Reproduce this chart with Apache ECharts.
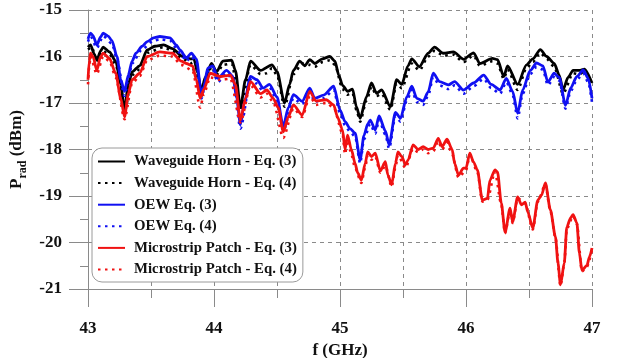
<!DOCTYPE html>
<html>
<head>
<meta charset="UTF-8">
<title>Prad vs f</title>
<style>
	html, body { margin: 0; padding: 0; background: #fff; }
	#main { width: 617px; height: 358px; }
</style>
</head>
<body>
<div id="main"></div>
<script src="https://cdn.jsdelivr.net/npm/echarts@6/dist/echarts.min.js"></script>
<script>
// [f (GHz), Prad (dBm)]
var hornEq3 = [[43.0,-15.8],[43.02,-15.75],[43.05,-15.95],[43.07,-16.08],[43.10,-15.88],[43.12,-15.8],[43.17,-15.9],[43.22,-16.1],[43.26,-16.6],[43.29,-17.15],[43.32,-16.6],[43.35,-16.33],[43.41,-16.2],[43.47,-15.86],[43.53,-15.78],[43.6,-15.75],[43.67,-15.83],[43.75,-16.0],[43.81,-16.05],[43.84,-16.05],[43.87,-16.35],[43.9,-16.75],[43.93,-16.45],[43.98,-16.15],[44.02,-16.33],[44.07,-16.1],[44.14,-16.08],[44.17,-16.3],[44.21,-17.1],[44.25,-16.5],[44.29,-16.1],[44.37,-16.3],[44.46,-16.18],[44.5,-16.32],[44.56,-17.0],[44.6,-16.6],[44.63,-16.3],[44.68,-16.1],[44.72,-16.2],[44.76,-16.07],[44.8,-16.15],[44.86,-16.05],[44.92,-16.0],[44.96,-16.1],[44.99,-16.4],[45.02,-16.62],[45.06,-16.75],[45.1,-16.7],[45.13,-17.08],[45.16,-17.33],[45.21,-16.87],[45.25,-16.57],[45.29,-16.79],[45.33,-16.72],[45.4,-17.08],[45.45,-16.5],[45.49,-16.6],[45.54,-16.2],[45.57,-16.05],[45.63,-16.22],[45.7,-15.93],[45.75,-15.8],[45.82,-15.93],[45.9,-15.9],[45.98,-16.06],[46.06,-15.92],[46.11,-16.15],[46.21,-16.04],[46.25,-16.07],[46.3,-16.43],[46.33,-16.2],[46.41,-16.6],[46.48,-16.18],[46.53,-16.05],[46.59,-15.85],[46.64,-16.0],[46.7,-16.15],[46.74,-16.4],[46.77,-16.72],[46.81,-16.45],[46.85,-16.3],[46.9,-16.3],[46.94,-16.27],[47.0,-16.57]];
var hornEq4 = [[43.0,-15.85],[43.03,-15.8],[43.07,-16.12],[43.11,-15.88],[43.17,-15.95],[43.22,-16.18],[43.29,-17.2],[43.35,-16.4],[43.41,-16.28],[43.47,-15.92],[43.6,-15.8],[43.67,-15.88],[43.75,-16.05],[43.81,-16.12],[43.86,-16.4],[43.9,-16.85],[43.94,-16.5],[43.98,-16.22],[44.02,-16.4],[44.07,-16.18],[44.14,-16.15],[44.21,-17.15],[44.29,-16.18],[44.37,-16.38],[44.42,-16.36],[44.46,-16.25],[44.5,-16.4],[44.56,-17.08],[44.63,-16.38],[44.7,-16.15],[44.76,-16.18],[44.8,-16.22],[44.86,-16.12],[44.92,-16.08],[44.96,-16.18],[45.02,-16.7],[45.06,-16.82],[45.1,-16.78],[45.13,-17.15],[45.16,-17.4],[45.21,-16.95],[45.25,-16.65],[45.29,-16.85],[45.33,-16.8],[45.4,-17.15],[45.45,-16.58],[45.49,-16.68],[45.57,-16.15],[45.63,-16.3],[45.7,-16.0],[45.75,-15.88],[45.82,-15.98],[45.9,-15.96],[45.98,-16.12],[46.06,-15.98],[46.11,-16.2],[46.21,-16.1],[46.25,-16.15],[46.3,-16.48],[46.33,-16.28],[46.41,-16.72],[46.48,-16.25],[46.53,-16.12],[46.59,-15.92],[46.64,-16.05],[46.7,-16.22],[46.77,-16.8],[46.85,-16.36],[46.9,-16.38],[46.94,-16.32],[47.0,-16.62]];
var oewEq3 = [[43.0,-15.62],[43.02,-15.5],[43.04,-15.55],[43.07,-15.75],[43.10,-15.58],[43.12,-15.5],[43.16,-15.56],[43.19,-15.66],[43.23,-16.0],[43.26,-16.5],[43.29,-16.75],[43.32,-16.4],[43.35,-16.1],[43.38,-15.93],[43.43,-15.78],[43.47,-15.68],[43.52,-15.6],[43.57,-15.57],[43.65,-15.6],[43.7,-15.75],[43.73,-15.86],[43.78,-16.03],[43.82,-15.93],[43.86,-16.05],[43.9,-16.8],[43.92,-16.65],[43.95,-16.25],[43.99,-16.2],[44.03,-16.47],[44.1,-16.3],[44.15,-16.43],[44.18,-16.9],[44.21,-17.47],[44.24,-17.0],[44.29,-16.43],[44.34,-16.5],[44.39,-16.68],[44.44,-16.6],[44.5,-16.87],[44.55,-17.5],[44.59,-17.1],[44.63,-16.82],[44.7,-16.96],[44.76,-16.68],[44.8,-16.9],[44.87,-16.83],[44.95,-16.64],[45.0,-17.15],[45.04,-17.4],[45.08,-17.55],[45.12,-17.65],[45.16,-18.22],[45.19,-17.7],[45.22,-17.45],[45.24,-17.37],[45.28,-17.58],[45.31,-17.28],[45.36,-17.6],[45.39,-17.9],[45.44,-17.2],[45.48,-17.33],[45.53,-16.87],[45.57,-16.64],[45.61,-16.9],[45.66,-16.96],[45.7,-16.76],[45.74,-16.36],[45.79,-16.54],[45.86,-16.61],[45.91,-16.54],[45.98,-16.72],[46.06,-16.57],[46.14,-16.4],[46.2,-16.6],[46.27,-16.72],[46.32,-16.47],[46.37,-16.75],[46.41,-17.22],[46.45,-16.72],[46.51,-16.3],[46.56,-16.14],[46.61,-16.2],[46.65,-16.55],[46.7,-16.36],[46.74,-16.45],[46.79,-17.05],[46.83,-16.68],[46.88,-16.43],[46.93,-16.29],[46.97,-16.47],[47.0,-16.9]];
var oewEq4 = [[43.0,-15.68],[43.02,-15.56],[43.07,-15.82],[43.12,-15.56],[43.19,-15.72],[43.23,-16.06],[43.29,-16.85],[43.32,-16.48],[43.35,-16.15],[43.43,-15.84],[43.52,-15.66],[43.57,-15.63],[43.65,-15.66],[43.73,-15.92],[43.78,-16.1],[43.82,-16.0],[43.86,-16.12],[43.9,-16.9],[43.95,-16.32],[43.99,-16.28],[44.03,-16.55],[44.1,-16.36],[44.15,-16.5],[44.21,-17.55],[44.29,-16.5],[44.34,-16.58],[44.39,-16.76],[44.44,-16.66],[44.5,-16.95],[44.55,-17.6],[44.63,-16.9],[44.7,-17.02],[44.76,-16.75],[44.8,-16.98],[44.87,-16.9],[44.95,-16.72],[45.0,-17.22],[45.04,-17.48],[45.08,-17.62],[45.12,-17.72],[45.16,-18.3],[45.19,-17.78],[45.24,-17.45],[45.28,-17.66],[45.31,-17.36],[45.36,-17.68],[45.39,-17.98],[45.44,-17.28],[45.48,-17.4],[45.53,-16.95],[45.57,-16.72],[45.61,-16.98],[45.66,-17.04],[45.7,-16.84],[45.74,-16.44],[45.79,-16.62],[45.86,-16.7],[45.91,-16.62],[45.98,-16.8],[46.06,-16.64],[46.14,-16.48],[46.2,-16.68],[46.27,-16.8],[46.32,-16.55],[46.37,-16.82],[46.41,-17.33],[46.45,-16.8],[46.51,-16.38],[46.56,-16.22],[46.61,-16.28],[46.65,-16.62],[46.7,-16.44],[46.74,-16.52],[46.79,-17.12],[46.83,-16.75],[46.88,-16.5],[46.93,-16.36],[46.97,-16.55],[47.0,-16.98]];
var patchEq3 = [[43.0,-16.5],[43.01,-16.1],[43.02,-15.93],[43.04,-16.0],[43.07,-16.3],[43.10,-16.0],[43.12,-15.93],[43.17,-16.04],[43.22,-16.36],[43.26,-16.9],[43.29,-17.3],[43.32,-16.8],[43.35,-16.5],[43.41,-16.36],[43.47,-16.0],[43.57,-15.9],[43.67,-15.93],[43.74,-16.1],[43.78,-16.15],[43.83,-16.2],[43.86,-16.5],[43.89,-16.9],[43.92,-16.7],[43.97,-16.36],[44.05,-16.43],[44.13,-16.4],[44.17,-16.6],[44.21,-17.37],[44.25,-16.9],[44.29,-16.54],[44.37,-16.8],[44.42,-16.72],[44.47,-16.9],[44.51,-17.1],[44.55,-17.62],[44.59,-17.3],[44.63,-17.04],[44.7,-17.26],[44.76,-16.75],[44.81,-16.96],[44.89,-16.93],[44.95,-17.04],[44.98,-17.3],[45.02,-17.58],[45.04,-18.0],[45.06,-17.69],[45.09,-18.0],[45.12,-18.3],[45.14,-18.5],[45.17,-18.66],[45.2,-18.3],[45.22,-18.05],[45.25,-18.15],[45.28,-18.08],[45.32,-18.46],[45.36,-18.26],[45.38,-18.55],[45.41,-18.76],[45.44,-18.3],[45.46,-18.05],[45.49,-18.15],[45.52,-18.33],[45.54,-18.23],[45.58,-17.9],[45.62,-18.0],[45.66,-17.94],[45.7,-18.0],[45.74,-17.97],[45.78,-17.76],[45.81,-17.94],[45.85,-17.78],[45.89,-18.0],[45.91,-18.3],[45.94,-18.55],[45.98,-18.4],[46.0,-18.4],[46.03,-18.08],[46.06,-18.27],[46.09,-18.44],[46.13,-19.09],[46.17,-19.05],[46.19,-18.66],[46.23,-18.44],[46.25,-18.48],[46.28,-19.15],[46.31,-19.78],[46.35,-19.26],[46.37,-19.56],[46.41,-19.02],[46.44,-19.19],[46.47,-19.13],[46.49,-19.34],[46.53,-19.69],[46.57,-19.09],[46.6,-18.98],[46.63,-18.72],[46.67,-19.3],[46.71,-19.88],[46.73,-20.44],[46.75,-20.91],[46.78,-20.44],[46.8,-19.67],[46.83,-19.47],[46.85,-19.4],[46.88,-19.58],[46.9,-20.23],[46.92,-20.6],[46.96,-20.49],[46.98,-20.31],[47.0,-20.12]];
var patchEq4 = [[43.0,-16.6],[43.01,-16.2],[43.02,-16.0],[43.07,-16.38],[43.12,-16.0],[43.17,-16.1],[43.22,-16.45],[43.29,-17.35],[43.35,-16.58],[43.41,-16.42],[43.47,-16.08],[43.57,-15.98],[43.67,-16.0],[43.74,-16.18],[43.83,-16.3],[43.89,-17.1],[43.92,-16.8],[43.97,-16.45],[44.05,-16.5],[44.13,-16.48],[44.21,-17.42],[44.29,-16.62],[44.37,-16.88],[44.42,-16.8],[44.47,-16.98],[44.55,-17.75],[44.63,-17.12],[44.7,-17.3],[44.76,-16.85],[44.81,-17.04],[44.89,-17.0],[44.95,-17.1],[45.02,-17.65],[45.04,-18.1],[45.06,-17.8],[45.09,-18.1],[45.12,-18.4],[45.17,-18.72],[45.2,-18.38],[45.22,-18.12],[45.25,-18.22],[45.28,-18.15],[45.32,-18.5],[45.36,-18.35],[45.41,-18.8],[45.44,-18.38],[45.46,-18.12],[45.52,-18.4],[45.58,-17.98],[45.62,-18.06],[45.66,-18.0],[45.7,-18.08],[45.74,-18.04],[45.78,-17.82],[45.81,-18.0],[45.85,-17.85],[45.89,-18.1],[45.94,-18.6],[46.0,-18.45],[46.03,-18.12],[46.09,-18.48],[46.13,-19.12],[46.17,-19.08],[46.23,-18.48],[46.28,-19.18],[46.31,-19.8],[46.35,-19.3],[46.37,-19.58],[46.41,-19.05],[46.47,-19.16],[46.53,-19.72],[46.57,-19.12],[46.63,-18.75],[46.67,-19.33],[46.71,-19.9],[46.75,-20.93],[46.78,-20.46],[46.8,-19.7],[46.85,-19.43],[46.88,-19.6],[46.92,-20.62],[46.96,-20.52],[47.0,-20.15]];

var seriesNames = ['Waveguide Horn - Eq. (3)', 'Waveguide Horn - Eq. (4)', 'OEW Eq. (3)', 'OEW Eq. (4)', 'Microstrip Patch - Eq. (3)', 'Microstrip Patch - Eq. (4)'];
var seriesData = [hornEq3, hornEq4, oewEq3, oewEq4, patchEq3, patchEq4];
var seriesColors = ['#000000', '#000000', '#1010f2', '#1010f2', '#f01212', '#f01212'];

var fontFam = '"Liberation Serif", "Times New Roman", serif';
var gridDash = { color: '#8a8a8a', width: 1, type: [4, 4] };

var series = [];
for (var i = 0; i < seriesData.length; i++) {
	var dotted = (i % 2 == 1);
	series.push({
		name: seriesNames[i],
		type: 'line',
		data: seriesData[i],
		symbol: 'none',
		smooth: 0.25,
		smoothMonotone: 'x',
		animation: false,
		lineStyle: {
			color: seriesColors[i],
			width: dotted ? 2.6 : 2.8,
			type: dotted ? [2.5, 4.5] : 'solid'
		},
		itemStyle: { color: seriesColors[i] }
	});
}

var myChart = echarts.init(document.getElementById('main'));
var option = {
	animation: false,
	textStyle: { fontFamily: fontFam },
	// keep the plot box fixed, don't let v6 shrink it to fit the labels
	grid: { left: 88, right: 25, top: 10, bottom: 69, outerBoundsMode: 'none' },
	legend: {
		orient: 'vertical',
		left: 92,
		top: 148,
		data: seriesNames,
		selectedMode: false,
		backgroundColor: '#fff',
		borderColor: '#9a9a9a',
		borderWidth: 1,
		borderRadius: 10,
		padding: [6, 6, 5, 5],
		itemWidth: 27,
		itemHeight: 14,
		itemGap: 6.6,
		itemStyle: { opacity: 0 },   // hide the symbol, keep only the line
		textStyle: { fontFamily: fontFam, fontWeight: 'bold', fontSize: 14.8, color: '#111', padding: [0, 0, 0, 4] }
	},
	xAxis: {
		type: 'value',
		min: 43,
		max: 47,
		interval: 1,
		name: 'f (GHz)',
		nameLocation: 'middle',
		nameGap: 49,
		nameTextStyle: { fontFamily: fontFam, fontWeight: 'bold', fontSize: 17, color: '#111' },
		axisLine: { show: true, onZero: false, lineStyle: { color: '#8a8a8a', width: 1 } },
		axisTick: { show: true, length: 18, lineStyle: { color: '#8a8a8a' } },
		minorTick: { show: true, splitNumber: 2, length: 9, lineStyle: { color: '#8a8a8a' } },
		axisLabel: { margin: 31, fontFamily: fontFam, fontWeight: 'bold', fontSize: 17, color: '#111' },
		splitLine: { show: true, lineStyle: gridDash },
		minorSplitLine: { show: true, lineStyle: gridDash }
	},
	yAxis: {
		type: 'value',
		min: -21,
		max: -15,
		interval: 1,
		name: '{p|P}{s|rad}{p| (dBm)}',
		nameLocation: 'middle',
		nameGap: 58,
		nameRotate: 90,
		nameTextStyle: {
			fontFamily: fontFam, fontWeight: 'bold', color: '#111',
			rich: {
				p: { fontFamily: fontFam, fontWeight: 'bold', fontSize: 17, lineHeight: 24, verticalAlign: 'middle', color: '#111' },
				s: { fontFamily: fontFam, fontWeight: 'bold', fontSize: 12, lineHeight: 24, verticalAlign: 'bottom', color: '#111' }
			}
		},
		axisLine: { show: true, onZero: false, lineStyle: { color: '#8a8a8a', width: 1 } },
		axisTick: { show: true, length: 19, lineStyle: { color: '#8a8a8a' } },
		minorTick: { show: true, splitNumber: 2, length: 8, lineStyle: { color: '#8a8a8a' } },
		axisLabel: { margin: 26, fontFamily: fontFam, fontWeight: 'bold', fontSize: 17, color: '#111' },
		splitLine: { show: true, lineStyle: gridDash }
	},
	series: series
};
myChart.setOption(option);
</script>
</body>
</html>
